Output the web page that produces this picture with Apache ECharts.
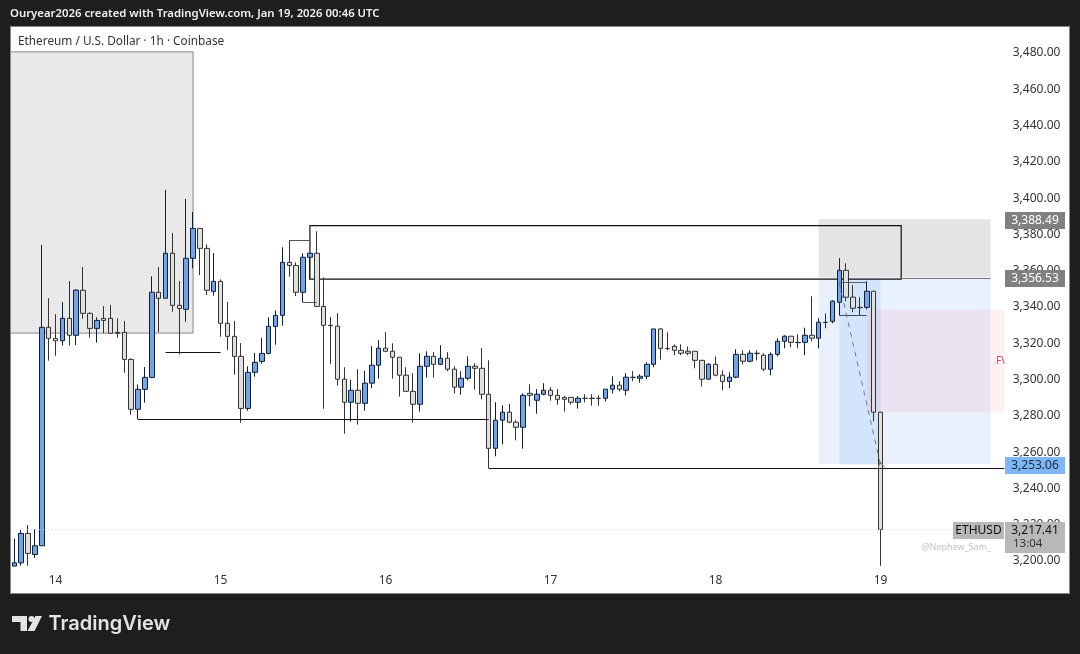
<!DOCTYPE html>
<html><head><meta charset="utf-8">
<style>html,body{margin:0;padding:0;background:#1e1e1e}#c{width:1080px;height:654px}</style>
<script src="https://cdn.jsdelivr.net/npm/echarts@6/dist/echarts.min.js"></script>
</head><body><div id="c"></div>
<script>
const opens = [
3197.2,3199.0,3215.2,3203.6,3208.4,3328.8,3322.7,3321.4,3333.7,3324.4,
3349.2,3336.5,3328.2,3333.7,3333.7,3326.0,3326.0,3311.1,3283.6,3294.6,
3301.2,3348.1,3344.8,3369.6,3340.9,3338.7,3366.8,3383.3,3372.3,3348.6,
3354.1,3331.0,3323.8,3312.8,3284.1,3304.0,3310.0,3314.4,3329.3,3335.4,
3364.6,3362.9,3348.1,3367.4,3369.6,3340.3,3329.9,3329.4,3300.2,3287.5,
3294.1,3286.9,3298.0,3307.9,3317.3,3315.6,3312.3,3302.4,3293.5,3286.4,
3307.3,3312.8,3308.4,3311.7,3305.7,3295.8,3300.7,3307.3,3306.2,3291.9,
3262.1,3277.6,3282.0,3276.5,3273.7,3292.4,3288.6,3291.9,3294.1,3291.3,
3290.2,3290.2,3287.5,3289.7,3289.7,3289.7,3289.7,3294.7,3296.9,3294.1,
3301.3,3300.7,3301.8,3308.4,3327.9,3317.2,3318.3,3316.1,3315.6,3315.6,
3310.6,3300.2,3308.4,3302.4,3299.0,3301.3,3313.9,3310.1,3314.5,3313.4,
3305.7,3313.9,3321.1,3323.9,3320.5,3320.5,3324.4,3322.8,3331.6,3332.1,
3342.6,3360.2,3345.4,3339.8,3339.8,3348.7,3282.0];
const closes = [
3199.0,3215.2,3204.2,3208.4,3328.8,3322.7,3321.4,3333.7,3324.4,3349.3,
3336.5,3328.2,3332.6,3332.6,3325.5,3325.5,3311.1,3283.6,3294.6,3301.2,
3348.1,3344.8,3369.6,3340.9,3339.2,3366.8,3383.3,3372.3,3349.2,3354.1,
3331.0,3323.8,3312.8,3284.1,3304.0,3309.5,3314.4,3329.3,3335.4,3364.6,
3362.9,3348.1,3367.4,3369.6,3340.3,3329.9,3329.7,3300.2,3287.5,3294.1,
3286.9,3298.0,3307.9,3317.3,3315.6,3312.3,3302.4,3293.5,3286.4,3307.3,
3312.8,3308.4,3311.7,3305.7,3295.8,3300.7,3307.3,3306.2,3291.9,3262.1,
3277.6,3282.0,3276.5,3273.7,3291.3,3291.3,3291.9,3294.1,3291.3,3289.1,
3289.1,3287.5,3289.7,3289.6,3289.6,3289.6,3294.7,3296.9,3294.7,3301.3,
3301.1,3301.8,3308.4,3327.9,3317.2,3317.0,3316.1,3314.5,3314.5,3310.6,
3300.2,3308.4,3302.4,3299.0,3301.3,3313.9,3310.1,3314.5,3314.3,3305.7,
3313.9,3321.1,3323.9,3320.5,3320.3,3324.4,3322.8,3331.6,3331.4,3343.2,
3360.2,3345.4,3339.3,3339.6,3348.7,3282.0,3217.41];
const lows = [
3197.2,3197.4,3197.4,3201.8,3208.4,3310.4,3313.1,3318.7,3318.7,3319.0,
3333.5,3323.1,3320.3,3325.5,3325.5,3323.1,3303.8,3280.6,3278.0,3287.2,
3300.7,3326.2,3344.8,3337.4,3313.9,3331.9,3361.3,3357.6,3346.6,3346.2,
3323.6,3316.3,3302.7,3276.2,3282.8,3301.6,3308.7,3313.9,3319.2,3329.7,
3356.7,3346.0,3342.5,3355.2,3340.2,3283.9,3308.7,3296.7,3270.2,3276.8,
3275.2,3282.9,3295.2,3300.5,3315.1,3300.5,3290.6,3293.5,3276.3,3282.3,
3301.1,3301.1,3307.9,3304.6,3292.4,3291.7,3299.6,3294.5,3289.1,3251.1,
3257.7,3264.3,3275.9,3266.5,3261.9,3285.3,3281.2,3291.3,3288.4,3286.2,
3282.3,3286.2,3284.0,3287.5,3285.6,3285.6,3287.9,3292.3,3293.5,3291.2,
3299.1,3298.3,3300.2,3306.8,3311.0,3316.1,3313.4,3313.4,3313.4,3306.2,
3296.1,3300.2,3301.8,3294.1,3295.2,3300.7,3308.4,3309.5,3310.6,3304.6,
3302.4,3312.8,3317.2,3317.8,3317.2,3313.4,3321.1,3317.2,3328.3,3331.0,
3335.4,3343.2,3337.1,3335.3,3338.7,3277.0,3197.4];
const highs = [
3212.4,3217.0,3219.8,3217.4,3374.2,3344.8,3336.1,3342.7,3354.3,3349.9,
3362.0,3337.0,3334.3,3340.5,3341.1,3333.7,3332.3,3311.7,3297.3,3306.9,
3356.9,3362.0,3404.5,3380.8,3354.3,3399.5,3392.3,3383.3,3374.5,3369.7,
3355.2,3342.7,3332.3,3320.1,3307.3,3314.6,3322.9,3334.3,3338.1,3372.9,
3376.7,3364.6,3369.6,3369.6,3381.7,3356.3,3334.5,3336.6,3306.8,3299.8,
3305.7,3304.8,3318.4,3321.7,3326.1,3320.0,3312.3,3306.8,3303.5,3314.5,
3315.6,3315.1,3318.9,3315.1,3307.3,3304.6,3312.8,3309.0,3317.3,3310.6,
3287.5,3285.8,3286.6,3277.6,3292.4,3297.4,3294.7,3298.0,3295.8,3294.7,
3290.8,3290.2,3290.8,3291.9,3291.9,3291.3,3294.7,3301.8,3299.1,3303.5,
3304.6,3302.9,3309.5,3327.9,3328.3,3326.1,3319.4,3319.4,3318.3,3315.6,
3310.6,3309.0,3312.8,3305.1,3304.0,3316.7,3316.1,3316.1,3316.1,3314.5,
3315.0,3322.8,3324.4,3323.9,3325.0,3328.6,3345.9,3333.8,3336.5,3343.7,
3366.9,3364.1,3352.0,3345.4,3354.2,3348.7,3282.0];
const priceTicks = [3200,3220,3240,3260,3280,3300,3320,3340,3360,3380,3400,3420,3440,3460,3480];

// one category per hour, from Jan 13 17:00 (an empty hour running under the frame)
// out to the empty space right of the last candle
const hours = [];
for (let i = 0; i < 146; i++) {
  const t = i + 17;
  hours.push(String(13 + Math.floor(t / 24)).padStart(2, '0') + ' ' + String(t % 24).padStart(2, '0') + ':00');
}
const candles = ['-'].concat(opens.map((o, i) => [o, closes[i], lows[i], highs[i]]));

const FONT = '"Noto Sans", sans-serif';
// drawing anchors below are candle numbers; the empty first hour moves them by one category
const area = (x0, y1, x1, y0, style) => [{xAxis: x0 + 1, yAxis: y1, itemStyle: style}, {xAxis: x1 + 1, yAxis: y0}];
const seg = (x0, y0, x1, y1, color, width, extra) => [
  {xAxis: x0 + 1, yAxis: y0, lineStyle: Object.assign({color: color, width: width, type: 'solid'}, extra || {}), symbol: 'none'},
  {xAxis: x1 + 1, yAxis: y1, symbol: (extra && extra.endSymbol) || 'none', symbolSize: 9}];

const box = (x, y, w, h, fill, z) => ({type: 'rect', z: z === undefined ? 100 : z, silent: true, shape: {x, y, width: w, height: h}, style: {fill}});
const txt = (x, y, text, fill, size, weight, align, z, family) => ({type: 'text', z: z === undefined ? 101 : z, silent: true, x, y,
  style: {text, fill, font: (weight || 400) + ' ' + size + 'px ' + (family || FONT), textAlign: align || 'left', textVerticalAlign: 'middle'}});

const option = {
  animation: false,
  backgroundColor: '#1e1e1e',
  grid: {left: 4, top: 27, width: 1003.75, height: 544, containLabel: false},
  xAxis: {
    type: 'category', data: hours, boundaryGap: true,
    axisLine: {show: false}, axisTick: {show: false}, splitLine: {show: false},
    axisLabel: {margin: 4, color: '#333', fontFamily: FONT, fontSize: 12,
      interval: (i, v) => v.endsWith(' 00:00'),
      formatter: v => String(parseInt(v.slice(0, 2), 10))}
  },
  yAxis: {
    type: 'value', position: 'right', min: 3194.49, max: 3494.3, scale: true,
    axisLine: {show: false}, axisTick: {show: false}, splitLine: {show: false},
    axisLabel: {customValues: priceTicks, margin: 5, color: '#333', fontFamily: FONT, fontSize: 12, padding: [4, 0, 0, 0],
      formatter: v => v.toLocaleString('en-US', {minimumFractionDigits: 2, maximumFractionDigits: 2})}
  },
  series: [{
    type: 'candlestick', data: candles, barWidth: 5, silent: true,
    itemStyle: {color: '#73a5e6', color0: '#e0e0e0', borderColor: '#0e1f3c', borderColor0: '#333333', borderWidth: 1,
      borderColorDoji: '#222222'},
    markArea: {
      silent: true,
      data: [
        area(-1, 3480.6, 26, 3325.6, {color: '#e9e9e9', borderColor: '#888888', borderWidth: 1}),
        area(117, 3388.4, 142, 3356.3, {color: '#e4e4e4', borderColor: '#e0e0e0', borderWidth: 0}),
        area(117, 3356.3, 142, 3253.3, {color: '#e9f1fe'}),
        area(120, 3355.8, 126, 3253.3, {color: '#d3e5fb'}),
        area(124, 3338.4, 144, 3281.8, {color: 'rgba(255,60,80,0.08)'}),
        area(43, 3384.8, 129, 3355.3, {color: 'rgba(0,0,0,0)', borderColor: '#111111', borderWidth: 1.2})
      ]
    },
    markLine: {
      silent: true, symbol: 'none', precision: 2,
      label: {show: false}, emphasis: {disabled: true},
      data: [
        seg(-1, 3217.41, 144, 3217.41, '#d4d4d4', 1, {type: [1, 3]}),
        seg(22, 3315.0, 30, 3315.0, '#111111', 1.2),
        seg(18, 3278.0, 69, 3278.0, '#111111', 1.2),
        seg(69, 3251.1, 144, 3251.1, '#111111', 1.2),
        seg(129, 3356.0, 142, 3356.0, '#777777', 1),
        seg(40, 3376.8, 43, 3376.8, '#555555', 1),
        seg(42, 3342.6, 44, 3342.6, '#555555', 1),
        seg(120, 3353.8, 124, 3353.8, '#556070', 1),
        seg(120, 3335.4, 124, 3335.4, '#3c4a60', 1),
        seg(120, 3353, 126, 3253, '#777c85', 1, {type: [5, 5], endSymbol: 'path://M0 0 L5 8 L10 0 L5 5 Z'})
      ]
    }
  }],
  graphic: {elements: [
    box(10, 26, 1060, 568, '#8a8a8a', -20),
    box(11, 27, 1058, 566, '#ffffff', -19),
    // frame over the empty first hour, so the first box runs to the chart's edge
    box(0, 26, 10, 568, '#1e1e1e', 100),
    box(10, 26, 1, 568, '#8a8a8a', 100),
    txt(10, 14, 'Ouryear2026 created with TradingView.com, Jan 19, 2026 00:46 UTC', '#f0f0f0', 11.35, 600),
    txt(18, 42, 'Ethereum / U.S. Dollar · 1h · Coinbase', '#333333', 11.8),
    // FVG label cut off by the end of its box
    txt(996, 361, 'FVG', '#e04a5a', 10),
    box(1004.5, 354, 13, 14, '#ffffff', 102),
    box(1005, 212, 60, 17, '#808080'), txt(1035, 220.5, '3,388.49', '#ffffff', 12, 400, 'center'),
    box(1005, 270, 60, 17, '#808080'), txt(1035, 278.5, '3,356.53', '#ffffff', 12, 400, 'center'),
    box(1005, 457, 60, 17, '#7fb6f6'), txt(1035, 465.5, '3,253.06', '#1a2a40', 12, 400, 'center'),
    box(953, 522, 51, 17, '#b8b8b8'), txt(978.5, 530.5, 'ETHUSD', '#111111', 12, 400, 'center'),
    box(1005, 522, 60, 31, '#b8b8b8'), txt(1035, 530.5, '3,217.41', '#111111', 12, 400, 'center'),
    txt(1013, 544, '13:04', '#333333', 11.5),
    txt(991, 547, '@Nephew_Sam_', '#c4c4c4', 9, 400, 'right'),
    // TradingView logo
    {type: 'polygon', z: 101, silent: true, shape: {points: [[12,616],[27,616],[27,631],[20.5,631],[20.5,622],[12,622]]}, style: {fill: '#e4e4e4'}},
    {type: 'circle', z: 101, silent: true, shape: {cx: 31.5, cy: 619, r: 3}, style: {fill: '#e4e4e4'}},
    {type: 'polygon', z: 101, silent: true, shape: {points: [[35.5,616],[42,616],[34.5,631],[27.5,631]]}, style: {fill: '#e4e4e4'}},
    txt(48.5, 624, 'TradingView', '#e4e4e4', 20, 600, 'left', 101, 'Inter, "Noto Sans", sans-serif')
  ]}
};
echarts.init(document.getElementById('c'), null, {renderer: 'canvas'}).setOption(option);
</script>
</body></html>
